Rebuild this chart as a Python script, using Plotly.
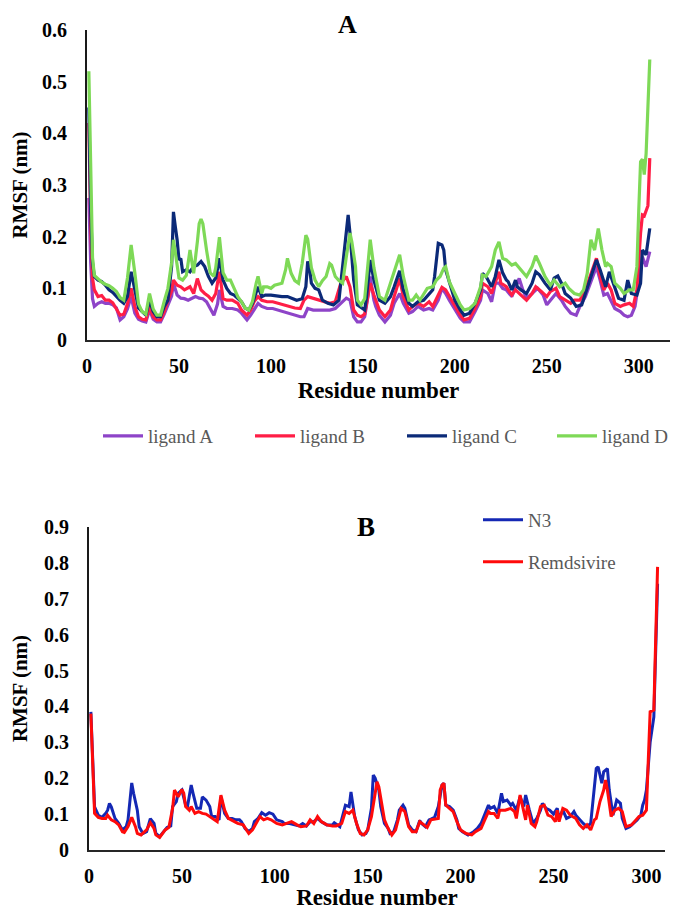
import plotly.graph_objects as go

# ---------------- Panel A data (residue, RMSF nm) ----------------
resA_ligA = [1,2,3,4,6,8,10,12,14,16,18,20,22,24,26,28,30,32,34,36,38,40,42,44,46,47,49,51,53,55,57,59,61,63,65,67,69,71,72,74,76,79,82,84,87,89,91,93,95,98,101,104,107,110,113,116,118,120,123,126,129,132,135,138,141,143,145,147,149,151,153,154,156,157,159,162,165,167,170,172,175,177,180,183,186,188,191,193,195,197,200,203,205,208,211,214,215,218,220,222,224,226,228,231,233,235,237,239,242,245,248,250,252,255,258,260,263,266,268,271,274,277,279,281,283,285,287,290,292,294,296,298,300,302,304,306]
rmsf_ligA = [0.275,0.15,0.08,0.065,0.071,0.074,0.071,0.071,0.068,0.062,0.039,0.045,0.06,0.084,0.052,0.04,0.037,0.035,0.058,0.04,0.035,0.035,0.05,0.068,0.085,0.11,0.087,0.081,0.08,0.077,0.081,0.084,0.081,0.08,0.074,0.06,0.048,0.07,0.097,0.065,0.061,0.061,0.058,0.052,0.039,0.048,0.06,0.071,0.065,0.061,0.061,0.058,0.055,0.052,0.048,0.045,0.045,0.061,0.058,0.058,0.058,0.058,0.061,0.071,0.081,0.077,0.045,0.035,0.035,0.045,0.09,0.123,0.077,0.065,0.048,0.035,0.048,0.071,0.09,0.071,0.052,0.055,0.065,0.058,0.061,0.058,0.077,0.10,0.09,0.077,0.058,0.042,0.035,0.035,0.055,0.077,0.097,0.09,0.074,0.11,0.11,0.10,0.097,0.084,0.103,0.119,0.097,0.081,0.09,0.10,0.087,0.068,0.077,0.09,0.077,0.065,0.052,0.048,0.065,0.084,0.113,0.142,0.116,0.087,0.09,0.077,0.061,0.055,0.048,0.045,0.048,0.065,0.11,0.161,0.142,0.171]

resA_ligB = [1,2,3,4,6,8,10,12,14,16,18,20,22,24,26,28,30,32,34,36,38,40,42,44,46,47,49,51,53,56,58,60,62,64,66,68,70,72,74,76,79,82,84,87,89,91,93,95,98,101,104,107,110,113,116,118,120,123,126,129,132,135,138,141,143,145,147,149,151,153,154,156,157,159,162,165,167,170,172,175,177,180,183,186,188,191,193,195,197,200,203,205,208,211,214,215,218,220,222,224,225,228,231,233,236,239,242,244,247,250,252,255,257,260,263,265,268,271,274,277,279,281,283,285,287,290,292,295,297,299,301,302,303,305,306]
rmsf_ligB = [0.42,0.22,0.12,0.097,0.084,0.086,0.077,0.077,0.072,0.06,0.048,0.05,0.07,0.10,0.065,0.045,0.04,0.039,0.065,0.045,0.039,0.039,0.055,0.077,0.095,0.116,0.106,0.103,0.097,0.103,0.09,0.119,0.097,0.09,0.085,0.077,0.09,0.132,0.08,0.077,0.077,0.071,0.058,0.048,0.058,0.075,0.084,0.077,0.074,0.074,0.071,0.068,0.065,0.062,0.061,0.077,0.084,0.081,0.077,0.074,0.071,0.074,0.11,0.123,0.103,0.058,0.048,0.045,0.05,0.09,0.11,0.087,0.077,0.058,0.045,0.058,0.084,0.119,0.084,0.058,0.065,0.071,0.065,0.074,0.065,0.087,0.102,0.097,0.084,0.065,0.048,0.039,0.042,0.061,0.084,0.11,0.103,0.09,0.11,0.132,0.11,0.103,0.087,0.097,0.087,0.077,0.09,0.103,0.094,0.084,0.094,0.10,0.084,0.077,0.071,0.077,0.077,0.097,0.129,0.158,0.123,0.097,0.11,0.097,0.071,0.065,0.068,0.071,0.065,0.097,0.207,0.242,0.24,0.26,0.352]

resA_ligC = [1,2,3,4,6,8,10,12,14,16,18,20,22,24,26,28,30,32,34,36,38,40,42,44,46,47,48,49,50,51,52,54,56,58,60,62,64,66,68,70,72,74,76,78,80,82,84,86,88,90,93,95,97,100,103,106,109,111,114,117,119,120,121,122,124,126,128,131,134,137,139,141,142,143,145,147,149,151,152,154,156,157,159,162,165,167,170,172,175,177,180,183,186,188,189,191,193,194,195,197,200,203,205,208,211,214,215,217,220,222,224,226,228,229,231,233,234,236,239,242,244,246,249,252,254,256,258,260,263,266,269,271,274,277,279,282,284,286,289,292,294,296,299,301,302,304,306]
rmsf_ligC = [0.45,0.25,0.15,0.123,0.116,0.113,0.106,0.097,0.092,0.084,0.077,0.071,0.084,0.132,0.095,0.062,0.055,0.048,0.077,0.055,0.045,0.045,0.065,0.077,0.142,0.248,0.22,0.194,0.155,0.158,0.132,0.136,0.132,0.142,0.145,0.152,0.142,0.123,0.11,0.12,0.158,0.116,0.10,0.09,0.087,0.08,0.074,0.062,0.058,0.071,0.103,0.084,0.087,0.087,0.085,0.084,0.084,0.081,0.077,0.08,0.103,0.152,0.14,0.11,0.10,0.097,0.077,0.071,0.068,0.077,0.142,0.215,0.242,0.207,0.116,0.068,0.062,0.058,0.084,0.155,0.116,0.103,0.077,0.071,0.084,0.103,0.134,0.097,0.071,0.065,0.074,0.077,0.09,0.097,0.123,0.187,0.184,0.174,0.136,0.113,0.077,0.058,0.048,0.052,0.071,0.097,0.129,0.123,0.103,0.123,0.155,0.13,0.116,0.113,0.097,0.116,0.103,0.097,0.09,0.11,0.132,0.126,0.11,0.097,0.12,0.124,0.11,0.09,0.081,0.065,0.068,0.09,0.123,0.155,0.136,0.103,0.132,0.11,0.081,0.077,0.116,0.09,0.087,0.11,0.174,0.165,0.216]

resA_ligD = [1,2,3,4,6,8,10,12,14,16,18,20,22,24,26,28,30,32,34,36,38,40,42,44,46,47,48,50,52,54,56,58,60,61,62,63,65,67,69,70,72,74,76,78,80,82,84,86,88,90,92,93,95,96,98,100,102,104,106,108,109,111,113,115,117,119,120,122,124,126,128,130,132,133,135,137,139,141,143,144,146,147,149,151,153,154,156,157,159,162,165,167,170,172,175,177,179,181,183,185,188,190,192,194,195,197,200,203,205,208,211,214,215,217,220,222,224,226,228,231,233,236,239,242,244,246,249,252,254,257,260,262,265,268,270,272,274,276,278,280,282,283,285,287,290,292,295,297,299,300,301,302,303,304,305,306]
rmsf_ligD = [0.52,0.30,0.16,0.125,0.118,0.112,0.108,0.105,0.10,0.094,0.082,0.077,0.12,0.184,0.13,0.07,0.055,0.05,0.09,0.06,0.048,0.048,0.075,0.10,0.15,0.194,0.17,0.12,0.116,0.125,0.174,0.129,0.19,0.225,0.234,0.225,0.174,0.13,0.123,0.14,0.199,0.13,0.116,0.116,0.10,0.084,0.074,0.062,0.058,0.075,0.11,0.123,0.09,0.103,0.103,0.10,0.106,0.108,0.11,0.136,0.158,0.129,0.115,0.11,0.148,0.203,0.195,0.14,0.116,0.103,0.115,0.123,0.148,0.145,0.123,0.115,0.11,0.161,0.207,0.19,0.142,0.077,0.068,0.08,0.15,0.194,0.14,0.123,0.084,0.077,0.11,0.136,0.165,0.123,0.077,0.077,0.087,0.077,0.09,0.10,0.103,0.116,0.123,0.139,0.142,0.113,0.09,0.068,0.058,0.061,0.071,0.103,0.126,0.123,0.142,0.174,0.19,0.158,0.155,0.145,0.148,0.136,0.123,0.142,0.163,0.148,0.123,0.106,0.116,0.103,0.11,0.10,0.09,0.087,0.097,0.129,0.194,0.174,0.216,0.174,0.142,0.148,0.142,0.11,0.10,0.09,0.097,0.097,0.142,0.25,0.345,0.35,0.32,0.36,0.45,0.543]

# ---------------- Panel B data ----------------
resB_N3 = [1,2,3,5,7,9,10,11,12,14,16,18,20,21,23,24,26,27,29,31,33,35,36,38,40,42,44,45,47,48,50,51,52,53,55,56,58,60,61,63,65,66,68,70,71,73,75,77,79,81,82,84,86,88,89,91,93,95,97,99,101,104,105,108,111,113,115,117,119,121,123,125,128,131,132,135,138,140,141,143,145,147,149,150,152,153,154,156,157,159,161,162,164,166,167,169,170,172,174,176,178,179,181,183,184,186,188,190,191,192,194,196,198,199,201,204,207,209,211,213,215,216,218,220,222,223,225,227,228,230,232,234,235,237,239,241,243,244,246,248,250,252,253,255,257,259,261,262,264,266,268,270,271,273,274,276,277,279,280,282,284,286,287,289,291,293,295,297,298,299,300,302,304,306]
rmsf_N3 = [0.385,0.25,0.12,0.097,0.091,0.102,0.111,0.13,0.12,0.088,0.074,0.056,0.065,0.084,0.187,0.158,0.111,0.065,0.046,0.051,0.087,0.074,0.046,0.037,0.051,0.063,0.067,0.121,0.135,0.158,0.167,0.144,0.125,0.121,0.181,0.158,0.116,0.116,0.148,0.139,0.121,0.093,0.093,0.084,0.148,0.102,0.088,0.088,0.084,0.084,0.079,0.06,0.051,0.06,0.079,0.088,0.104,0.097,0.104,0.10,0.084,0.079,0.074,0.074,0.07,0.067,0.074,0.067,0.079,0.079,0.088,0.079,0.07,0.07,0.076,0.065,0.125,0.121,0.162,0.093,0.056,0.042,0.046,0.056,0.116,0.209,0.20,0.167,0.121,0.074,0.06,0.046,0.051,0.084,0.111,0.125,0.116,0.07,0.056,0.051,0.082,0.074,0.065,0.084,0.086,0.091,0.121,0.181,0.186,0.125,0.121,0.111,0.084,0.06,0.051,0.042,0.051,0.06,0.074,0.097,0.125,0.116,0.121,0.102,0.158,0.135,0.139,0.125,0.13,0.111,0.148,0.121,0.153,0.111,0.074,0.088,0.111,0.13,0.116,0.111,0.10,0.116,0.088,0.111,0.088,0.093,0.107,0.097,0.084,0.074,0.065,0.074,0.125,0.227,0.232,0.186,0.218,0.227,0.167,0.097,0.139,0.13,0.088,0.06,0.065,0.074,0.084,0.097,0.125,0.139,0.167,0.30,0.371,0.742]

resB_Rem = [1,2,3,5,7,9,10,12,14,16,18,19,21,23,25,26,28,31,33,35,36,38,41,43,45,46,48,50,51,52,54,55,57,59,61,63,65,67,69,71,73,75,78,80,83,86,88,90,92,94,96,98,101,104,106,109,112,114,117,119,121,123,125,128,131,133,136,138,140,142,144,146,148,150,152,155,156,158,159,161,163,165,166,168,170,172,174,176,178,180,182,184,186,188,189,190,191,192,194,196,198,200,203,206,208,211,213,215,216,218,220,221,224,227,229,230,232,234,235,236,238,240,241,243,245,247,249,251,252,253,255,257,259,262,264,266,268,270,272,273,275,277,278,279,281,283,285,287,289,292,294,296,298,300,301,302,304,306]
rmsf_Rem = [0.38,0.25,0.102,0.091,0.088,0.088,0.097,0.084,0.079,0.07,0.051,0.049,0.065,0.091,0.065,0.046,0.042,0.056,0.076,0.06,0.042,0.035,0.056,0.063,0.116,0.167,0.148,0.169,0.158,0.121,0.111,0.121,0.102,0.107,0.102,0.10,0.093,0.084,0.079,0.153,0.111,0.088,0.079,0.074,0.07,0.046,0.056,0.074,0.093,0.084,0.088,0.084,0.074,0.07,0.074,0.079,0.07,0.065,0.067,0.084,0.074,0.093,0.079,0.07,0.067,0.067,0.074,0.107,0.102,0.111,0.074,0.046,0.042,0.056,0.093,0.19,0.176,0.12,0.084,0.06,0.042,0.056,0.079,0.116,0.107,0.065,0.051,0.051,0.079,0.07,0.063,0.084,0.086,0.088,0.167,0.181,0.186,0.125,0.116,0.107,0.079,0.056,0.046,0.042,0.051,0.06,0.084,0.107,0.102,0.102,0.088,0.111,0.111,0.116,0.107,0.088,0.153,0.111,0.084,0.125,0.074,0.065,0.079,0.121,0.125,0.097,0.093,0.079,0.111,0.079,0.116,0.111,0.097,0.088,0.07,0.06,0.07,0.056,0.084,0.088,0.135,0.167,0.195,0.167,0.093,0.111,0.116,0.107,0.065,0.07,0.083,0.093,0.097,0.111,0.25,0.385,0.39,0.789]

namesA = ["ligand A", "ligand B", "ligand C", "ligand D"]
colorsA = ["#8E44C8", "#FF1E46", "#0B2A78", "#7ED957"]
namesB = ["N3", "Remdsivire"]
colorsB = ["#1428B4", "#FF0A0A"]

SERIF = "Liberation Serif"

# The page body has an 8 px margin; the figure is sized so it fills the 680x918 window.
OFF = 8
W, H = 680 - 2 * OFF, 918 - 2 * OFF


def px(X):
    """page x pixel -> paper fraction"""
    return (X - OFF) / W


def py(Y):
    """page y pixel -> paper fraction"""
    return 1 - (Y - OFF) / H


fig = go.Figure()

# one single-entry legend per series, placed where the reference shows each key
legA_ids = ["legend", "legend2", "legend3", "legend4"]
legA_x = [98, 250, 402, 552]      # page px of each entry's left edge
legA_y = 436
legB_ids = ["legend5", "legend6"]
legB_x = [478, 478]
legB_y = [520, 562]

seriesA = [(resA_ligA, rmsf_ligA), (resA_ligB, rmsf_ligB), (resA_ligC, rmsf_ligC), (resA_ligD, rmsf_ligD)]
for (xs, ys), nm, col, lg in zip(seriesA, namesA, colorsA, legA_ids):
    fig.add_trace(go.Scatter(x=xs, y=ys, mode="lines", name=nm,
                             line=dict(color=col, width=3.2),
                             xaxis="x", yaxis="y", legend=lg))

seriesB = [(resB_N3, rmsf_N3), (resB_Rem, rmsf_Rem)]
for (xs, ys), nm, col, lg in zip(seriesB, namesB, colorsB, legB_ids):
    fig.add_trace(go.Scatter(x=xs, y=ys, mode="lines", name=nm,
                             line=dict(color=col, width=3),
                             xaxis="x2", yaxis="y2", legend=lg))

tickfont = dict(family=SERIF, size=20, color="#000000", weight="bold")
titlefont = dict(family=SERIF, size=23, color="#000000", weight="bold")
ytitlefont = dict(family=SERIF, size=21, color="#000000", weight="bold")
legfont = dict(family=SERIF, size=19, color="#595959")

common_x = dict(showgrid=False, zeroline=False, showline=True, linecolor="#262626",
                linewidth=2, ticks="", tickfont=tickfont, dtick=50, tick0=0,
                ticklabelstandoff=7)
common_y = dict(showgrid=False, zeroline=False, showline=True, linecolor="#1a1a1a",
                linewidth=2, ticks="", tickfont=tickfont, dtick=0.1, tick0=0,
                ticklabelstandoff=14)

legends = {}
for lg, lx in zip(legA_ids, legA_x):
    legends[lg] = dict(orientation="v", x=px(lx), xanchor="left", y=py(legA_y), yanchor="middle",
                       font=legfont, bgcolor="rgba(0,0,0,0)", borderwidth=0, itemwidth=40)
for lg, lx, ly in zip(legB_ids, legB_x, legB_y):
    legends[lg] = dict(orientation="v", x=px(lx), xanchor="left", y=py(ly), yanchor="middle",
                       font=legfont, bgcolor="rgba(0,0,0,0)", borderwidth=0, itemwidth=40)

fig.update_layout(
    width=W, height=H,
    margin=dict(l=0, r=0, t=0, b=0, autoexpand=False),
    paper_bgcolor="white", plot_bgcolor="white",
    xaxis=dict(domain=[px(87), px(670)], range=[0, 317], anchor="y",
               title=dict(text="Residue number", font=titlefont, standoff=6), **common_x),
    yaxis=dict(domain=[py(340), py(30)], range=[0, 0.6], anchor="x",
               title=dict(text="RMSF (nm)", font=ytitlefont, standoff=14), **common_y),
    xaxis2=dict(domain=[px(89), px(665)], range=[0, 310], anchor="y2",
                title=dict(text="Residue number", font=titlefont, standoff=6), **common_x),
    yaxis2=dict(domain=[py(850), py(527)], range=[0, 0.9], anchor="x2",
                title=dict(text="RMSF (nm)", font=ytitlefont, standoff=14), **common_y),
    showlegend=True,
    annotations=[
        dict(text="A", x=px(347), y=1, xref="paper", yref="paper",
             showarrow=False, xanchor="center", yanchor="top",
             font=dict(family=SERIF, size=26, color="#000000", weight="bold")),
        dict(text="B", x=px(366), y=py(527), xref="paper", yref="paper",
             showarrow=False, xanchor="center", yanchor="middle",
             font=dict(family=SERIF, size=27, color="#000000", weight="bold")),
    ],
    **legends,
)

fig.write_html("out.html")
